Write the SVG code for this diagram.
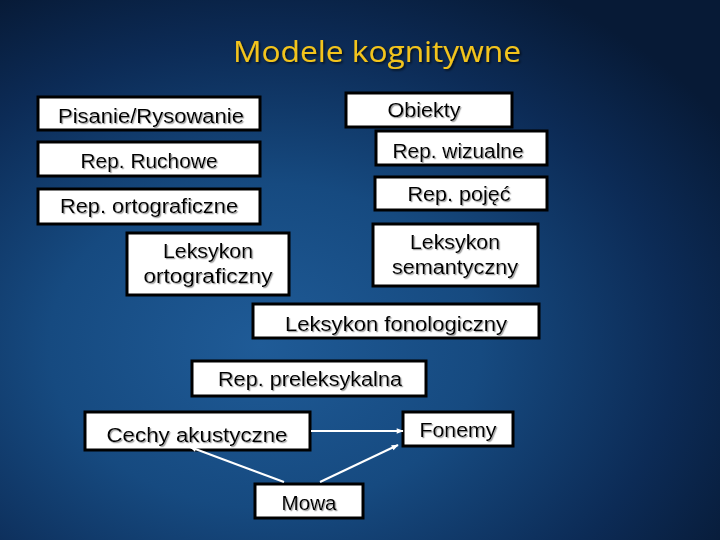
<svg xmlns="http://www.w3.org/2000/svg" width="720" height="540" viewBox="0 0 720 540">
<defs>
<radialGradient id="bg" cx="0.38" cy="0.64" r="0.75" fx="0.36" fy="0.64">
<stop offset="0" stop-color="#1f5b97"/>
<stop offset="0.4" stop-color="#164a80"/>
<stop offset="0.75" stop-color="#0c2b56"/>
<stop offset="1" stop-color="#071a36"/>
</radialGradient>
<filter id="sh" x="-10%" y="-30%" width="120%" height="160%">
<feDropShadow dx="1.2" dy="1.2" stdDeviation="0.6" flood-color="#888" flood-opacity="0.8"/>
</filter>
<filter id="tsh" x="-10%" y="-30%" width="120%" height="160%">
<feDropShadow dx="1.5" dy="1.5" stdDeviation="0.8" flood-color="#000" flood-opacity="0.7"/>
</filter>
<marker id="ah" viewBox="0 0 10 10" refX="9" refY="5" markerWidth="8" markerHeight="7" orient="auto" markerUnits="userSpaceOnUse">
<path d="M0,1 L10,5 L0,9 z" fill="#fff"/>
</marker>
</defs>
<style>
.box{fill:#fff;stroke:#000;stroke-width:3}
.t{font-family:"Liberation Sans",Arial,sans-serif;font-size:20px;fill:#000;text-anchor:middle;filter:url(#sh)}
.c{stroke:#fff;stroke-width:2;fill:none;marker-end:url(#ah)}
</style>
<rect width="720" height="540" fill="url(#bg)"/>
<text x="377" y="62" font-family="'Open Sans','DejaVu Sans',sans-serif" font-size="30" fill="#f3c41c" text-anchor="middle" textLength="288" lengthAdjust="spacingAndGlyphs" filter="url(#tsh)">Modele kognitywne</text>

<g id="n-pisanie"><rect class="box" x="38" y="97" width="222" height="33"/><text class="t" x="151" y="123" textLength="186" lengthAdjust="spacingAndGlyphs">Pisanie/Rysowanie</text></g>
<g id="n-ruchowe"><rect class="box" x="38" y="142" width="222" height="34"/><text class="t" x="149" y="168" textLength="137" lengthAdjust="spacingAndGlyphs">Rep. Ruchowe</text></g>
<g id="n-ortograficzne"><rect class="box" x="38" y="189" width="222" height="35"/><text class="t" x="149" y="213" textLength="178" lengthAdjust="spacingAndGlyphs">Rep. ortograficzne</text></g>
<g id="n-leks-orto"><rect class="box" x="127" y="233" width="162" height="62"/><text class="t" x="208" y="258" textLength="90" lengthAdjust="spacingAndGlyphs">Leksykon</text><text class="t" x="208" y="283" textLength="129" lengthAdjust="spacingAndGlyphs">ortograficzny</text></g>
<g id="n-obiekty"><rect class="box" x="346" y="93" width="166" height="34"/><text class="t" x="424" y="117" textLength="73" lengthAdjust="spacingAndGlyphs">Obiekty</text></g>
<g id="n-wizualne"><rect class="box" x="376" y="131" width="171" height="34"/><text class="t" x="458" y="158" textLength="131" lengthAdjust="spacingAndGlyphs">Rep. wizualne</text></g>
<g id="n-pojec"><rect class="box" x="375" y="177" width="172" height="33"/><text class="t" x="459" y="201" textLength="103" lengthAdjust="spacingAndGlyphs">Rep. pojęć</text></g>
<g id="n-leks-sem"><rect class="box" x="373" y="224" width="165" height="62"/><text class="t" x="455" y="249" textLength="90" lengthAdjust="spacingAndGlyphs">Leksykon</text><text class="t" x="455" y="274" textLength="126" lengthAdjust="spacingAndGlyphs">semantyczny</text></g>
<g id="n-leks-fon"><rect class="box" x="253" y="304" width="286" height="34"/><text class="t" x="396" y="331" textLength="222" lengthAdjust="spacingAndGlyphs">Leksykon fonologiczny</text></g>
<g id="n-prelek"><rect class="box" x="192" y="361" width="234" height="35"/><text class="t" x="310" y="386" textLength="184" lengthAdjust="spacingAndGlyphs">Rep. preleksykalna</text></g>
<g id="n-cechy"><rect class="box" x="85" y="412" width="225" height="38"/><text class="t" x="197" y="442" textLength="181" lengthAdjust="spacingAndGlyphs">Cechy akustyczne</text></g>
<g id="n-fonemy"><rect class="box" x="403" y="412" width="110" height="34"/><text class="t" x="458" y="437" textLength="77" lengthAdjust="spacingAndGlyphs">Fonemy</text></g>
<g id="n-mowa"><rect class="box" x="255" y="484" width="108" height="34"/><text class="t" x="309" y="510" textLength="55" lengthAdjust="spacingAndGlyphs">Mowa</text></g>

<g id="connectors">
<line class="c" x1="311" y1="431" x2="403" y2="431"/>
<line class="c" x1="284" y1="482" x2="190" y2="447"/>
<line class="c" x1="320" y1="482" x2="398" y2="445"/>
</g>
</svg>
